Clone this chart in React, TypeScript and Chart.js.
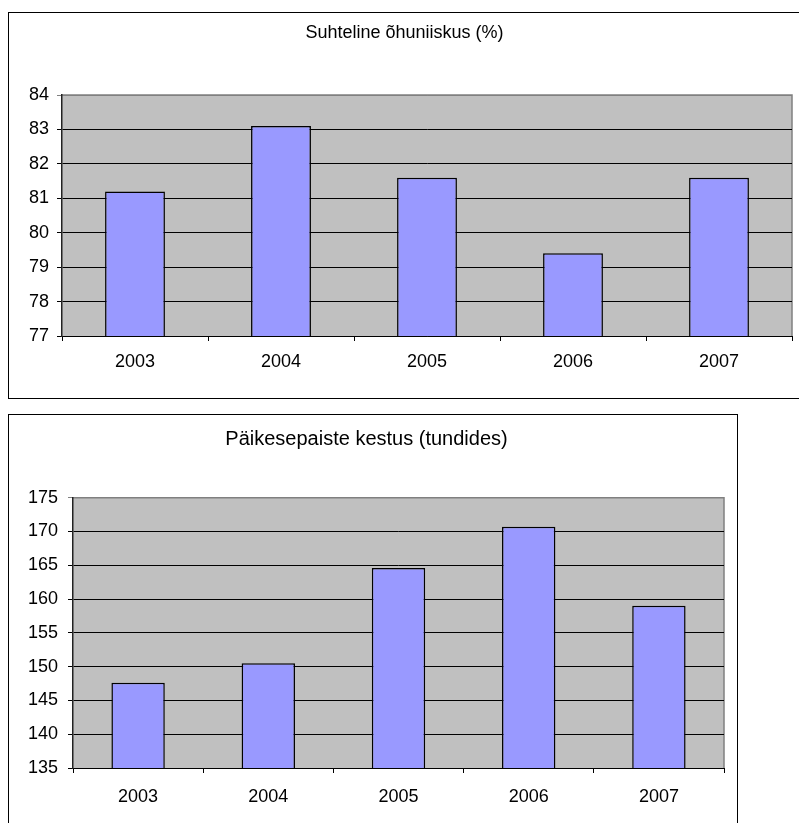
import React, { useEffect, useRef } from 'react';
import { Chart, registerables } from 'chart.js';

Chart.register(...registerables);

const years = ['2003', '2004', '2005', '2006', '2007'];
const humidity = [81.2, 83.1, 81.6, 79.4, 81.6];
const sunshine = [147.6, 150.5, 164.6, 170.7, 159.0];
const humidityTitle = 'Suhteline õhuniiskus (%)';
const sunshineTitle = 'Päikesepaiste kestus (tundides)';
const humidityAxis = { min: 77, max: 84, step: 1 };
const sunshineAxis = { min: 135, max: 175, step: 5 };

const FONT = '"Liberation Sans", Arial, sans-serif';

const plotBg = {
  id: 'plotBg',
  beforeDraw(chart: any) {
    const { ctx, chartArea: a } = chart;
    ctx.save();
    ctx.fillStyle = '#C0C0C0';
    ctx.fillRect(a.left, a.top, a.right - a.left, a.bottom - a.top);
    ctx.strokeStyle = '#808080';
    ctx.lineWidth = 1.5;
    ctx.beginPath();
    ctx.moveTo(a.left, a.top);
    ctx.lineTo(a.right, a.top);
    ctx.lineTo(a.right, a.bottom);
    ctx.stroke();
    ctx.restore();
  },
};

type Props = {
  labels: string[];
  values: number[];
  title: string;
  axis: { min: number; max: number; step: number };
  width: number;
  height: number;
  yWidth: number;
  xHeight: number;
  leftPad: number;
  rightPad: number;
  titleSize: number;
  titleTop: number;
  titleBottom: number;
  tickSize: number;
  yPad: number;
  xPad: number;
};

function BarChart(p: Props) {
  const ref = useRef<HTMLCanvasElement>(null);
  useEffect(() => {
    if (!ref.current) return;
    const chart = new Chart(ref.current, {
      type: 'bar',
      data: {
        labels: p.labels,
        datasets: [
          {
            data: p.values,
            backgroundColor: '#9999FF',
            borderColor: '#000000',
            borderWidth: 1.5,
            barPercentage: 0.41,
            categoryPercentage: 1,
          },
        ],
      },
      options: {
        responsive: false,
        animation: false,
        devicePixelRatio: 1,
        layout: { padding: { left: p.leftPad, right: p.rightPad, top: 0, bottom: 0 } },
        plugins: {
          legend: { display: false },
          tooltip: { enabled: false },
          title: {
            display: true,
            text: p.title,
            color: '#000',
            font: { family: FONT, size: p.titleSize, weight: 'normal' },
            padding: { top: p.titleTop, bottom: p.titleBottom },
          },
        },
        scales: {
          x: {
            grid: {
              drawOnChartArea: false,
              drawTicks: true,
              tickLength: 5,
              color: '#000',
              offset: true,
            },
            border: { display: true, color: '#000', width: 1 },
            ticks: {
              color: '#000',
              font: { family: FONT, size: p.tickSize },
              padding: p.xPad,
              maxRotation: 0,
            },
            afterFit: (s: any) => {
              s.height = p.xHeight;
            },
          },
          y: {
            min: p.axis.min,
            max: p.axis.max,
            grid: {
              color: (c: any) => (c.tick && c.tick.value === p.axis.max ? '#808080' : '#000'),
              lineWidth: 1,
              tickLength: 5,
              drawTicks: true,
            },
            border: { display: true, color: '#222', width: 1.5 },
            ticks: {
              stepSize: p.axis.step,
              color: '#000',
              font: { family: FONT, size: p.tickSize },
              padding: p.yPad,
            },
            afterFit: (s: any) => {
              s.width = p.yWidth;
            },
          },
        },
      },
      plugins: [plotBg],
    });
    return () => chart.destroy();
  }, []);
  return <canvas ref={ref} width={p.width} height={p.height} style={{ display: 'block' }} />;
}

export default function App() {
  return (
    <div style={{ position: 'fixed', inset: 0, overflow: 'hidden', background: '#fff' }}>
      <div
        style={{
          position: 'absolute',
          left: 8,
          top: 12,
          width: 810,
          height: 387,
          boxSizing: 'border-box',
          border: '1px solid #000',
        }}
      >
        <BarChart
          labels={years}
          values={humidity}
          title={humidityTitle}
          axis={humidityAxis}
          width={790}
          height={384}
          yWidth={45}
          xHeight={61}
          leftPad={8}
          rightPad={7}
          titleSize={18}
          titleTop={9.2}
          titleBottom={51.2}
          tickSize={18}
          yPad={8}
          xPad={9.9}
        />
      </div>
      <div
        style={{
          position: 'absolute',
          left: 8,
          top: 414,
          width: 730,
          height: 420,
          boxSizing: 'border-box',
          border: '1px solid #000',
        }}
      >
        <BarChart
          labels={years}
          values={sunshine}
          title={sunshineTitle}
          axis={sunshineAxis}
          width={728}
          height={408}
          yWidth={64}
          xHeight={55}
          leftPad={0}
          rightPad={13}
          titleSize={20}
          titleTop={12}
          titleBottom={46.7}
          tickSize={18}
          yPad={10}
          xPad={12.9}
        />
      </div>
    </div>
  );
}
